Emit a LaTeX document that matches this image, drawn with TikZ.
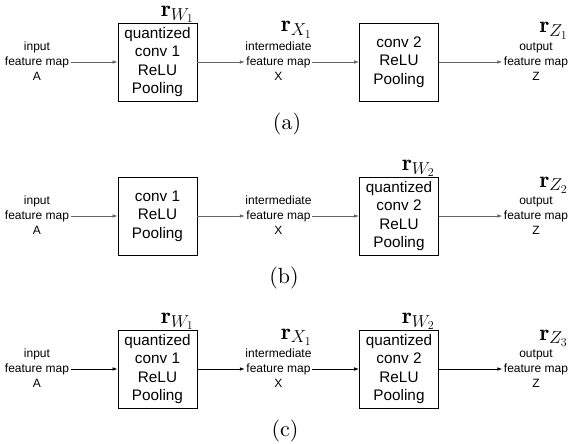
\documentclass[tikz,border=0pt]{standalone}
\usepackage{fontspec}
\newfontfamily\arialfont{Liberation Sans}
\newfontfamily\capfont{lmroman10-regular.otf}
\usetikzlibrary{arrows.meta}
\tikzset{
  box/.style={draw, line width=0.9pt, minimum width=79pt, minimum height=78pt, inner sep=0pt, align=center, font=\arialfont\fontsize{15.3}{18.5}\selectfont},
  lab/.style={font=\arialfont\fontsize{12}{15}\selectfont, inner sep=1.5pt, text height=8.8pt, text depth=2.5pt},
  conn/.style={-{Latex[length=5pt,width=3.6pt]}, line width=0.7pt, draw=black!60},
  connk/.style={conn, draw=black},
  rlab/.style={font=\fontsize{23}{27}\selectfont, inner sep=0pt, text height=10.5pt, text depth=4pt, anchor=base east},
  caplab/.style={font=\capfont\fontsize{22}{26}\selectfont, inner sep=0pt}
}
\begin{document}
\begin{tikzpicture}[x=1pt,y=-1pt]
\useasboundingbox (0,0) rectangle (574,444);
% ---------- row (a)
\node[lab] (ia) at (37,47) {input};
\node[lab] (fa) at (37,62) {feature map};
\node[lab] (aa) at (37,77) {A};
\node[box] (b1a) at (157.5,62) {quantized\\conv 1\\ReLU\\Pooling};
\node[lab] (ixa) at (278.5,47) {intermediate};
\node[lab] (fxa) at (278.5,62) {feature map};
\node[lab] (xa) at (278.5,77) {X};
\node[box] (b2a) at (399,62) {conv 2\\ReLU\\Pooling};
\node[lab] (oza) at (536,47) {output};
\node[lab] (fza) at (536,62) {feature map};
\node[lab] (za) at (536,77) {Z};
\node[rlab] (rwa) at (194,16.5) {$\mathbf{r}_{W_1}$};
\node[rlab] (rxa) at (312,32) {$\mathbf{r}_{X_1}$};
\node[rlab] (rza) at (568,33) {$\mathbf{r}_{Z_1}$};
\node[caplab] (capa) at (287,124) {(a)};
\draw[conn] (fa) -- (b1a);
\draw[conn] (b1a) -- (fxa);
\draw[conn] (fxa) -- (b2a);
\draw[conn] (b2a) -- (fza);
% ---------- row (b)
\node[lab] (ib) at (37,201) {input};
\node[lab] (fb) at (37,216) {feature map};
\node[lab] (ab) at (37,231) {A};
\node[box] (b1b) at (157.5,216) {conv 1\\ReLU\\Pooling};
\node[lab] (ixb) at (278.5,201) {intermediate};
\node[lab] (fxb) at (278.5,216) {feature map};
\node[lab] (xb) at (278.5,231) {X};
\node[box] (b2b) at (399,216) {quantized\\conv 2\\ReLU\\Pooling};
\node[lab] (ozb) at (536,201) {output};
\node[lab] (fzb) at (536,216) {feature map};
\node[lab] (zb) at (536,231) {Z};
\node[rlab] (rwb) at (435,170.5) {$\mathbf{r}_{W_2}$};
\node[rlab] (rzb) at (568,187) {$\mathbf{r}_{Z_2}$};
\node[caplab] (capb) at (284,278) {(b)};
\draw[conn] (fb) -- (b1b);
\draw[conn] (b1b) -- (fxb);
\draw[conn] (fxb) -- (b2b);
\draw[conn] (b2b) -- (fzb);
% ---------- row (c)
\node[lab] (ic) at (37,354) {input};
\node[lab] (fc) at (37,369) {feature map};
\node[lab] (ac) at (37,384) {A};
\node[box] (b1c) at (157.5,369) {quantized\\conv 1\\ReLU\\Pooling};
\node[lab] (ixc) at (278.5,354) {intermediate};
\node[lab] (fxc) at (278.5,369) {feature map};
\node[lab] (xc) at (278.5,384) {X};
\node[box] (b2c) at (399,369) {quantized\\conv 2\\ReLU\\Pooling};
\node[lab] (ozc) at (536,354) {output};
\node[lab] (fzc) at (536,369) {feature map};
\node[lab] (zc) at (536,384) {Z};
\node[rlab] (rwc1) at (194,323.5) {$\mathbf{r}_{W_1}$};
\node[rlab] (rxc) at (312,339) {$\mathbf{r}_{X_1}$};
\node[rlab] (rwc2) at (435,323.5) {$\mathbf{r}_{W_2}$};
\node[rlab] (rzc) at (568,340) {$\mathbf{r}_{Z_3}$};
\node[caplab] (capc) at (285,431) {(c)};
\draw[connk] (fc) -- (b1c);
\draw[connk] (b1c) -- (fxc);
\draw[connk] (fxc) -- (b2c);
\draw[connk] (b2c) -- (fzc);
\end{tikzpicture}
\end{document}
